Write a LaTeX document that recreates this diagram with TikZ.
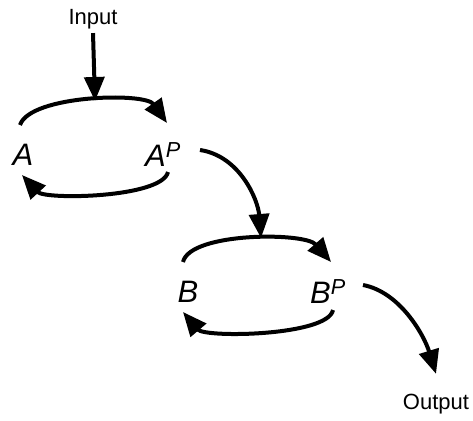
\documentclass[tikz,border=0pt]{standalone}
\usepackage{fontspec}
\setmainfont{Liberation Sans}
\usetikzlibrary{arrows.meta}
\begin{document}
\begin{tikzpicture}[x=1pt,y=-1pt,
  lbl/.style={font=\fontsize{22}{26}\selectfont, inner sep=2pt},
  spc/.style={font=\fontsize{31}{36}\selectfont\itshape, inner sep=0pt},
  arr/.style={line width=4pt, -{Triangle[length=24pt,width=20pt]}}]
\useasboundingbox (0,0) rectangle (473,420);
\node[lbl] (in) at (93,19) {Input};
\node[lbl] (out) at (436,404) {Output};
\node[spc] (A) at (23,155) {A};
\node[spc,anchor=west] (AP) at (145,155) {A\textsuperscript{P}};
\node[spc] (B) at (188,292) {B};
\node[spc,anchor=west] (BP) at (310,292) {B\textsuperscript{P}};
% arc end points
\coordinate (a1) at (20,125);
\coordinate (a2) at (167,123);
\coordinate (a3) at (168,172);
\coordinate (a4) at (22,175);
\coordinate (topA) at (95,101);
\coordinate (b1) at (183,262);
\coordinate (b2) at (331,262);
\coordinate (b3) at (333,310);
\coordinate (b4) at (183,312);
\coordinate (topB) at (261,238);
\coordinate (ap) at (200,150);
\coordinate (bp) at (363,285);
% arcs
\draw[arr] (a1) .. controls (30,95) and (145,92) .. (a2);
\draw[arr] (a3) .. controls (162,198) and (45,200) .. (a4);
\draw[arr] (b1) .. controls (190,232) and (305,232) .. (b2);
\draw[arr] (b3) .. controls (328,336) and (205,338) .. (b4);
% links
\draw[arr] ([yshift=-2pt]in.south) -- (topA);
\draw[arr] (ap) .. controls (240,156) and (258,200) .. (topB);
\draw[arr] (bp) .. controls (400,292) and (424,335) .. ([yshift=18pt]out.north);
\end{tikzpicture}
\end{document}
